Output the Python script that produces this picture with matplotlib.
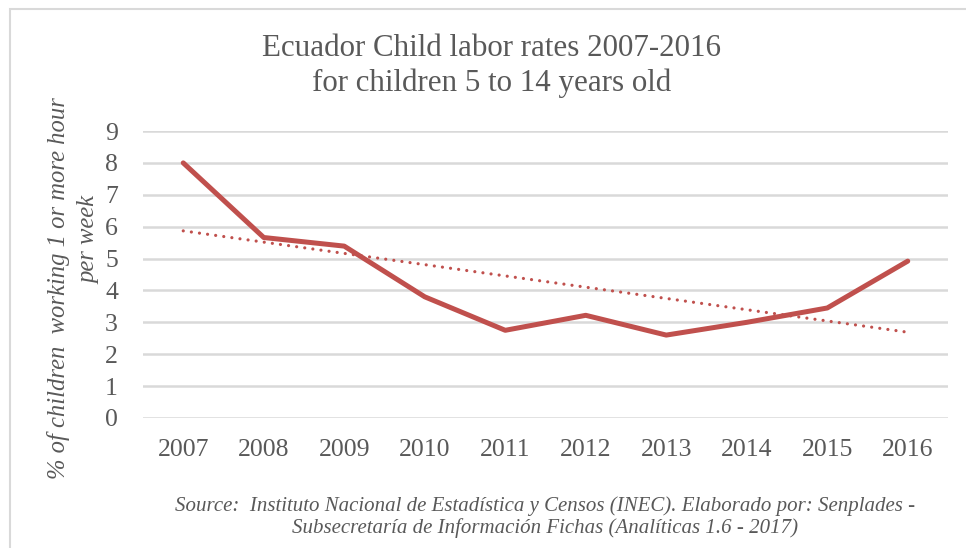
import matplotlib
matplotlib.use("Agg")
import matplotlib.pyplot as plt
import numpy as np
from matplotlib.patches import Rectangle

years = ["2007", "2008", "2009", "2010", "2011", "2012", "2013", "2014", "2015", "2016"]
rates = [8.0, 5.66, 5.39, 3.80, 2.75, 3.22, 2.60, 3.00, 3.45, 4.92]
yticks = [0, 1, 2, 3, 4, 5, 6, 7, 8, 9]

title = "Ecuador Child labor rates 2007-2016\nfor children 5 to 14 years old"
ylabel1 = "% of children  working 1 or more hour"
ylabel2 = "per week"
source = ("Source:  Instituto Nacional de Estadística y Censos (INEC). Elaborado por: Senplades -\n"
          "Subsecretaría de Información Fichas (Analíticas 1.6 - 2017)")

FONT = "Liberation Serif"
GRAY = "#595959"
RED = "#c0504d"

W, H = 966, 548
fig = plt.figure(figsize=(W / 100, H / 100), dpi=100)
fig.patch.set_facecolor("white")

# outer chart border (only left and top visible)
fig.patches.append(Rectangle((10 / W, -0.2), 1.2, 1.2 - 9 / H, transform=fig.transFigure,
                             fill=False, edgecolor="#d9d9d9", linewidth=1.5, zorder=0))

left, right, top, bottom = 143, 948, 131, 418
ax = fig.add_axes([left / W, 1 - bottom / H, (right - left) / W, (bottom - top) / H])

x = np.arange(len(years))
ax.plot(x, rates, color=RED, linewidth=3.6, solid_capstyle="round", solid_joinstyle="round", zorder=3)

coef = np.polyfit(x, rates, 1)
trend = np.polyval(coef, x)
ax.plot(x, trend, color=RED, linewidth=2.3, linestyle=(0, (0.01, 2.55)), dash_capstyle="round", zorder=2)

ax.set_xlim(-0.5, len(years) - 0.5)
ax.set_ylim(0, 9)
ax.set_yticks(yticks)
ax.set_yticklabels([str(v) for v in yticks])
ax.set_xticks(x)
ax.set_xticklabels(years)
ax.grid(axis="y", color="#d9d9d9", linewidth=1.8)
ax.set_axisbelow(True)
for s in ax.spines.values():
    s.set_visible(False)
ax.tick_params(length=0, colors=GRAY, labelsize=18.5)
ax.tick_params(axis="y", pad=18)
ax.tick_params(axis="x", pad=15)
for lab in ax.get_xticklabels() + ax.get_yticklabels():
    lab.set_fontfamily(FONT)
    lab.set_color(GRAY)

fig.text(492 / W, 1 - 66 / H, title, ha="center", va="center", fontsize=22.3,
         family=FONT, color=GRAY, linespacing=1.25)

fig.text(59 / W, 1 - 288 / H, ylabel1, rotation=90, ha="center", va="center",
         fontsize=17.7, family=FONT, style="italic", color=GRAY)
fig.text(89 / W, 1 - 240 / H, ylabel2, rotation=90, ha="center", va="center",
         fontsize=17.7, family=FONT, style="italic", color=GRAY)

fig.text(545 / W, 1 - 517 / H, source, ha="center", va="center", fontsize=15,
         family=FONT, style="italic", color=GRAY, linespacing=1.15)

fig.savefig("out.png", dpi=100, facecolor="white")
